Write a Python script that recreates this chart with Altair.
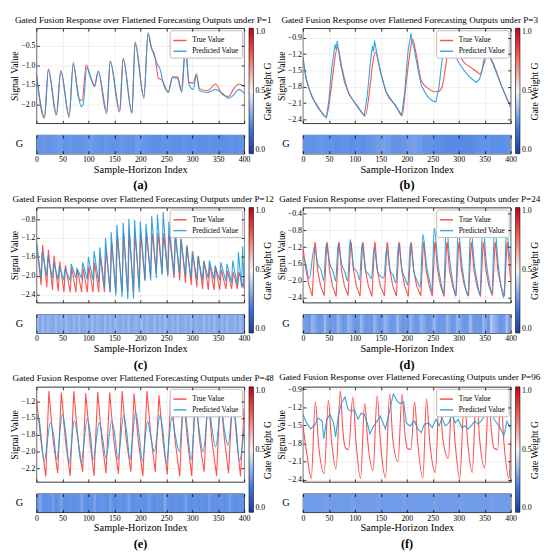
import json
import altair as alt
import pandas as pd

FONT = "Liberation Serif"
RED = "#ff3030"
BLUE = "#1e9ad6"
SERIES = ["True Value", "Predicted Value"]
X_TICKS = [0, 50, 100, 150, 200, 250, 300, 350, 400]
CB_DOMAIN = [0.0, 0.2, 0.5, 0.8, 1.0]
CB_RANGE = ["#1c3d9c", "#3f7ae3", "#f5f5f5", "#f2564b", "#c4001f"]
CB_TICKS = [0.0, 0.5, 1.0]
CB_TITLE = "Gate Weight G"

TITLES = [
    "Gated Fusion Response over Flattened Forecasting Outputs under P=1",
    "Gated Fusion Response over Flattened Forecasting Outputs under P=3",
    "Gated Fusion Response over Flattened Forecasting Outputs under P=12",
    "Gated Fusion Response over Flattened Forecasting Outputs under P=24",
    "Gated Fusion Response over Flattened Forecasting Outputs under P=48",
    "Gated Fusion Response over Flattened Forecasting Outputs under P=96",
]
TAGS = ["(a)", "(b)", "(c)", "(d)", "(e)", "(f)"]

# ---------------- panel (a) P=1 ----------------
A_TRUE_X = [0, 15, 23, 38, 47, 63, 71, 82, 88, 96, 103, 112, 119, 135, 142, 160, 167, 184, 190, 207,
            215, 221, 228, 235, 242, 254, 262, 272, 279, 287, 294, 302, 308, 314, 330, 345, 358, 370, 380, 390, 400]
A_TRUE_Y = [-1.20, -2.36, -1.10, -2.28, -1.14, -2.33, -0.93, -1.88, -1.90, -0.99, -1.25, -1.52, -1.15, -2.25,
            -0.89, -2.20, -0.82, -2.23, -0.40, -1.80, -0.20, -0.55, -0.76, -1.33, -1.38, -1.70, -1.30, -1.30,
            -1.65, -0.55, -1.44, -1.46, -1.22, -1.60, -1.65, -1.48, -1.75, -1.80, -1.60, -1.48, -1.55]
A_PRED_X = [0, 16, 23, 39, 47, 63, 71, 79, 86, 90, 97, 104, 112, 119, 136, 142, 161, 167, 184, 190, 207, 215,
            221, 228, 234, 238, 244, 254, 262, 272, 280, 287, 294, 302, 308, 314, 330, 345, 358, 370, 380, 390, 400]
A_PRED_Y = [-1.25, -2.33, -1.13, -2.26, -1.16, -2.28, -0.97, -1.60, -2.06, -2.00, -1.05, -1.30, -1.55, -1.17,
            -2.18, -0.91, -2.16, -0.85, -2.22, -0.45, -1.85, -0.17, -0.52, -0.80, -1.01, -1.10, -1.45, -1.68,
            -1.32, -1.35, -1.70, -0.57, -1.50, -1.62, -1.26, -1.65, -1.70, -1.62, -1.72, -1.85, -1.76, -1.62, -1.72]
A_YDOM = [-2.487, -0.055]
A_YTICKS = [-2.0, -1.5, -1.0, -0.5]
G_A = [0.26, 0.27, 0.26, 0.27, 0.28, 0.26, 0.27, 0.26, 0.26, 0.27, 0.28, 0.27, 0.26, 0.27, 0.26, 0.26, 0.27,
       0.26, 0.26, 0.28, 0.27, 0.26, 0.25, 0.25, 0.26, 0.26, 0.25, 0.25, 0.26, 0.25, 0.26, 0.25, 0.25, 0.26,
       0.25, 0.25, 0.25, 0.26, 0.25, 0.26]

# ---------------- panel (b) P=3 ----------------
B_TRUE_X = [0, 6, 18, 30, 45, 52, 58, 62, 67, 75, 86, 105, 120, 128, 134, 139, 150, 160, 179, 191, 198, 205,
            211, 220, 228, 241, 253, 262, 268, 276, 284, 296, 309, 321, 337, 341, 348, 355, 365, 383, 400]
B_TRUE_Y = [-1.25, -1.63, -1.98, -2.18, -2.36, -2.00, -1.55, -1.25, -1.08, -1.45, -1.86, -2.15, -2.33, -1.90,
            -1.40, -1.16, -1.55, -1.89, -2.15, -2.33, -1.80, -1.25, -0.93, -1.30, -1.69, -1.83, -1.89, -1.88,
            -1.80, -1.35, -0.92, -1.10, -1.34, -1.43, -1.54, -1.57, -1.40, -1.20, -1.34, -1.80, -2.17]
B_PRED_X = [0, 6, 18, 30, 45, 50, 54, 57, 60, 62, 64, 66, 68, 72, 80, 88, 105, 118, 124, 128, 131, 134, 136,
            138, 141, 150, 160, 179, 190, 196, 200, 203, 206, 208, 210, 213, 220, 228, 240, 250, 256, 262, 268,
            273, 277, 280, 283, 290, 300, 312, 322, 334, 340, 345, 350, 353, 356, 365, 383, 400]
B_PRED_Y = [-1.28, -1.66, -2.00, -2.20, -2.37, -2.05, -1.60, -1.35, -1.15, -1.02, -1.12, -0.96, -1.10, -1.35,
            -1.72, -1.92, -2.17, -2.33, -1.95, -1.55, -1.25, -1.05, -1.15, -0.95, -1.12, -1.55, -1.90, -2.16,
            -2.32, -1.90, -1.40, -1.10, -0.95, -0.82, -0.95, -1.05, -1.40, -1.78, -1.98, -2.06, -2.08, -1.80,
            -1.30, -1.00, -0.87, -1.05, -0.93, -1.15, -1.36, -1.52, -1.63, -1.72, -1.66, -1.50, -1.22, -1.13,
            -1.20, -1.36, -1.80, -2.17]
B_YDOM = [-2.47, -0.725]
B_YTICKS = [-2.4, -2.1, -1.8, -1.5, -1.2, -0.9]
G_B = [0.26, 0.26, 0.26, 0.27, 0.26, 0.26, 0.25, 0.26, 0.26, 0.25, 0.26, 0.25, 0.26, 0.27, 0.28, 0.29, 0.28,
       0.26, 0.26, 0.27, 0.28, 0.29, 0.28, 0.26, 0.26, 0.25, 0.25, 0.24, 0.24, 0.24, 0.24, 0.24, 0.24, 0.25,
       0.26, 0.26, 0.25, 0.25, 0.25, 0.26]

# ---------------- panel (c) P=12 ----------------
C_TRUE_X = [0, 9, 12, 20, 23, 31, 34, 42, 45, 53, 56, 65, 68, 76, 79, 87, 90, 98, 101, 109, 112, 120, 123,
            131, 134, 142, 145, 153, 156, 165, 168, 176, 179, 187, 190, 198, 201, 209, 212, 220, 223, 231, 234,
            242, 245, 253, 256, 265, 268, 276, 279, 287, 290, 298, 301, 309, 312, 320, 323, 331, 334, 342, 345,
            353, 356, 365, 368, 376, 379, 387, 390, 398, 400]
C_TRUE_Y = [-1.28,
            -2.20, -1.35, -2.25, -1.45, -2.30, -1.58, -2.33, -1.70, -2.35, -1.78,
            -2.35, -1.83, -2.35, -1.86, -2.35, -1.85, -2.35, -1.80, -2.35, -1.72,
            -2.35, -1.60, -2.35, -1.45, -2.35, -1.30, -2.35, -1.15, -2.35, -1.10,
            -2.37, -1.10, -2.35, -1.10, -2.25, -1.10, -2.10, -1.10, -2.00, -1.10,
            -1.95, -1.10, -1.95, -1.10, -2.00, -1.10, -2.05, -1.12, -2.10, -1.22,
            -2.15, -1.35, -2.20, -1.48, -2.25, -1.58, -2.28, -1.68, -2.30, -1.75,
            -2.30, -1.82, -2.30, -1.87, -2.28, -1.90, -2.28, -1.92, -2.28, -1.92,
            -2.25, -2.05]
C_PRED_X = [0, 9, 11, 20, 22, 31, 33, 42, 44, 53, 55, 65, 67, 76, 78, 87, 89, 98, 100, 109, 111, 120, 122,
            131, 133, 142, 144, 153, 155, 165, 167, 176, 178, 187, 189, 198, 200, 209, 211, 220, 222, 231, 233,
            242, 244, 253, 255, 265, 267, 276, 278, 287, 289, 298, 300, 309, 311, 320, 322, 331, 333, 342, 344,
            353, 355, 365, 367, 376, 378, 387, 389, 395, 397, 400]
C_PRED_Y = [-1.30,
            -2.05, -1.50, -2.00, -1.60, -2.05, -1.72, -2.08, -1.80, -2.10, -1.85,
            -2.10, -1.75, -2.05, -1.85, -2.05, -1.72, -2.08, -1.60, -2.10, -1.48,
            -2.15, -1.40, -2.25, -1.20, -2.35, -1.08, -2.42, -0.92, -2.45, -0.87,
            -2.50, -0.80, -2.48, -0.82, -2.35, -0.85, -2.10, -0.90, -2.10, -0.73,
            -2.05, -0.70, -1.98, -0.65, -2.00, -0.85, -1.98, -1.10, -1.95, -1.22,
            -2.00, -1.38, -2.05, -1.50, -2.08, -1.60, -2.10, -1.70, -2.05, -1.68,
            -2.08, -1.78, -2.10, -1.72, -2.12, -1.75, -2.15, -1.68, -2.20, -1.50,
            -2.25, -1.38, -2.28]
C_YDOM = [-2.57, -0.555]
C_YTICKS = [-2.4, -2.0, -1.6, -1.2, -0.8]
G_C = [0.35, 0.31, 0.35, 0.31, 0.34, 0.32, 0.31, 0.35, 0.31, 0.34,
       0.31, 0.35, 0.32, 0.31, 0.34, 0.31, 0.35, 0.31, 0.32, 0.34,
       0.31, 0.35, 0.31, 0.34, 0.32, 0.31, 0.35, 0.31, 0.34, 0.31,
       0.35, 0.32, 0.31, 0.34, 0.31, 0.35, 0.31, 0.32, 0.34, 0.31,
       0.35, 0.31, 0.34, 0.32, 0.31, 0.35, 0.31, 0.34, 0.31, 0.35,
       0.32, 0.31, 0.34, 0.31, 0.35, 0.31, 0.32, 0.34, 0.31, 0.35,
       0.31, 0.34, 0.32, 0.31, 0.35, 0.31, 0.34, 0.31, 0.35, 0.32,
       0.31, 0.34, 0.31, 0.35, 0.31, 0.32, 0.34, 0.31, 0.35, 0.31]

# ---------------- panel (d) P=24 ----------------
D_TRUE_X = [0, 6, 12, 18, 23, 24, 28, 34, 41, 46, 47, 51, 57, 64, 69, 70, 74, 80, 87, 92, 93, 97, 103, 110,
            115, 116, 120, 126, 133, 138, 139, 143, 149, 157, 162, 163, 167, 173, 180, 185, 186, 190, 196, 203,
            208, 209, 213, 219, 227, 232, 233, 237, 243, 249, 254, 255, 259, 265, 272, 277, 278, 282, 288, 295,
            300, 301, 305, 311, 319, 324, 325, 329, 335, 342, 347, 348, 352, 358, 365, 370, 371, 375, 381, 388,
            393, 394, 398, 400]
D_TRUE_Y = [-1.20, -1.75, -2.12, -2.36,
            -1.10, -1.10, -1.72, -2.12, -2.35,
            -1.10, -1.10, -1.72, -2.12, -2.37,
            -1.10, -1.10, -1.72, -2.12, -2.35,
            -1.10, -1.10, -1.72, -2.12, -2.36,
            -1.10, -1.10, -1.72, -2.12, -2.37,
            -1.10, -1.10, -1.72, -2.12, -2.35,
            -1.10, -1.10, -1.72, -2.12, -2.36,
            -1.10, -1.10, -1.72, -2.12, -2.37,
            -1.10, -1.10, -1.72, -2.12, -2.35,
            -1.10, -1.10, -1.72, -2.12, -2.36,
            -1.10, -1.10, -1.72, -2.12, -2.37,
            -1.10, -1.10, -1.72, -2.12, -2.35,
            -1.10, -1.10, -1.72, -2.12, -2.36,
            -1.10, -1.10, -1.72, -2.12, -2.37,
            -1.10, -1.10, -1.72, -2.12, -2.35,
            -1.10, -1.10, -1.72, -2.12, -2.36,
            -1.10, -1.10, -1.72, -2.00]
D_PRED_X = [0, 5, 12, 22, 29, 35, 40, 45, 52, 58, 63, 68, 75, 81, 86, 91, 98, 104, 109, 114, 121, 127, 132,
            137, 144, 150, 156, 161, 168, 174, 179, 184, 191, 197, 202, 207, 214, 220, 226, 231, 238, 244, 248,
            253, 260, 266, 271, 276, 283, 289, 294, 299, 306, 312, 318, 323, 330, 336, 341, 346, 353, 359, 364,
            369, 376, 382, 387, 392, 398, 400]
D_PRED_Y = [-1.40, -1.58, -1.95,
            -1.20, -1.62, -1.75, -1.99,
            -1.13, -1.60, -1.78, -2.00,
            -1.13, -1.62, -1.80, -2.00,
            -1.02, -1.70, -1.78, -1.97,
            -1.12, -1.75, -1.85, -1.95,
            -1.22, -1.78, -1.90, -1.93,
            -1.22, -1.75, -1.88, -2.05,
            -1.12, -1.75, -1.95, -2.10,
            -1.12, -1.80, -2.00, -2.15,
            -0.90, -1.65, -2.00, -2.25,
            -0.75, -1.60, -2.05, -2.30,
            -0.68, -1.55, -2.05, -2.36,
            -0.78, -1.60, -2.10, -2.36,
            -0.71, -1.60, -2.05, -2.33,
            -0.64, -1.55, -2.05, -2.30,
            -0.68, -1.60, -2.15, -2.40,
            -0.78, -1.40, -1.55]
D_YDOM = [-2.514, -0.263]
D_YTICKS = [-2.4, -2.0, -1.6, -1.2, -0.8, -0.4]
G_D = [0.29, 0.28, 0.27, 0.34, 0.32, 0.28, 0.27, 0.28, 0.35, 0.29,
       0.27, 0.28, 0.27, 0.34, 0.30, 0.27, 0.28, 0.34, 0.32, 0.28,
       0.27, 0.28, 0.35, 0.29, 0.27, 0.28, 0.27, 0.34, 0.30, 0.27,
       0.28, 0.34, 0.32, 0.28, 0.27, 0.28, 0.35, 0.29, 0.27, 0.28,
       0.27, 0.34, 0.30, 0.27, 0.28, 0.34, 0.32, 0.28, 0.27, 0.28,
       0.35, 0.29, 0.27, 0.28, 0.27, 0.34, 0.30, 0.27, 0.28, 0.34,
       0.32, 0.28, 0.27, 0.28, 0.36, 0.29, 0.27, 0.28, 0.27, 0.34,
       0.30, 0.27, 0.39, 0.34, 0.32, 0.28, 0.27, 0.28, 0.36, 0.29]

# ---------------- panel (e) P=48 ----------------
E_TRUE_X = [0, 9, 18, 24, 32, 41, 48, 56, 65, 72, 80, 89, 95, 103, 111, 118, 126, 134, 141, 149, 158, 165,
            173, 182, 188, 196, 205, 213, 221, 229, 236, 244, 252, 259, 267, 276, 283, 291, 299, 306, 314, 323,
            330, 338, 347, 354, 362, 370, 378, 386, 393, 400]
E_TRUE_Y = [-1.22, -1.85, -2.37,
            -1.10, -1.82, -2.32, -1.12, -1.84, -2.36, -1.10, -1.82, -2.30, -1.13, -1.84, -2.36,
            -1.11, -1.83, -2.32, -1.12, -1.83, -2.33, -1.10, -1.82, -2.30, -1.13, -1.84, -2.36,
            -1.10, -1.82, -2.30, -1.16, -1.85, -2.34, -1.10, -1.83, -2.37, -1.12, -1.84, -2.36,
            -1.11, -1.82, -2.30, -1.12, -1.84, -2.36, -1.10, -1.82, -2.32, -1.11, -1.85, -2.37,
            -1.35]
E_PRED_X = [0, 5, 15, 27, 33, 39, 50, 56, 63, 73, 79, 86, 98, 104, 109, 121, 127, 134, 145, 151, 157, 168,
            174, 180, 191, 197, 204, 214, 220, 227, 238, 244, 250, 261, 267, 275, 284, 290, 298, 307, 313, 321,
            332, 338, 345, 356, 362, 369, 379, 385, 391, 400]
E_PRED_Y = [-1.45, -1.52, -2.14,
            -1.57, -1.75, -2.12, -1.44, -1.70, -2.17, -1.54, -1.75, -2.17, -1.51, -1.74, -2.12,
            -1.57, -1.78, -2.10, -1.54, -1.76, -2.12, -1.46, -1.72, -2.12, -1.41, -1.70, -2.14,
            -1.55, -1.76, -2.00, -1.46, -1.72, -2.17, -1.48, -1.74, -2.00, -1.26, -1.62, -2.12,
            -1.31, -1.66, -2.00, -1.31, -1.65, -1.93, -1.36, -1.68, -1.91, -1.29, -1.66, -2.14,
            -1.65]
E_YDOM = [-2.45, -1.036]
E_YTICKS = [-2.25, -2.0, -1.75, -1.5, -1.25]
E_YLABELS = ["\u22122.2", "\u22122.0", "\u22121.8", "\u22121.5", "\u22121.2"]
G_E = [0.26, 0.31, 0.26, 0.25, 0.26, 0.26, 0.29, 0.25, 0.26, 0.30,
       0.26, 0.25, 0.26, 0.26, 0.25, 0.26, 0.26, 0.31, 0.26, 0.25,
       0.26, 0.26, 0.30, 0.25, 0.26, 0.26, 0.26, 0.25, 0.29, 0.26,
       0.25, 0.26, 0.26, 0.25, 0.26, 0.30, 0.26, 0.25, 0.26, 0.26,
       0.26, 0.25, 0.26, 0.29, 0.26, 0.25, 0.26, 0.26, 0.25, 0.31,
       0.26, 0.26, 0.25, 0.26, 0.26, 0.25, 0.26, 0.29, 0.26, 0.25,
       0.26, 0.26, 0.25, 0.26, 0.26, 0.25, 0.29, 0.26, 0.26, 0.25,
       0.26, 0.26, 0.25, 0.26, 0.29, 0.26, 0.25, 0.26, 0.26, 0.26]

# ---------------- panel (f) P=96 ----------------
F_TRUE_X = [0, 8, 16, 24, 30, 41, 49, 55, 64, 72, 77, 82, 88, 96, 102, 111, 119, 125, 135, 143, 149, 159, 167,
            173, 183, 191, 196, 201, 208, 215, 221, 231, 238, 244, 255, 263, 269, 280, 287, 293, 302, 311, 317,
            326, 334, 340, 350, 358, 363, 368, 375, 381, 387, 397, 400]
F_TRUE_Y = [-1.50, -2.00, -2.38, -1.11, -1.80, -2.30, -1.09, -1.75, -2.22, -0.93, -1.60, -1.88, -1.90, -1.03,
            -1.75, -2.38, -1.14, -1.78, -2.25, -1.01, -1.75, -2.37, -0.98, -1.72, -2.10, -0.98, -1.60, -1.88,
            -1.90, -1.11, -1.78, -2.37, -1.06, -1.75, -2.28, -0.94, -1.70, -2.05, -1.09, -1.78, -2.38, -1.03,
            -1.75, -2.28, -0.93, -1.70, -2.20, -1.01, -1.60, -1.88, -1.90, -1.03, -1.78, -2.38, -1.75]
F_PRED_X = [0, 7, 15, 24, 29, 37, 40, 46, 52, 59, 63, 68, 74, 81, 87, 94, 99, 106, 112, 118, 124, 129, 136,
            143, 149, 159, 168, 174, 181, 187, 194, 199, 206, 215, 221, 228, 234, 242, 249, 256, 262, 268, 274,
            281, 287, 293, 299, 306, 312, 318, 324, 331, 337, 343, 349, 356, 362, 368, 378, 387, 393, 400]
F_PRED_Y = [-1.32, -1.46, -1.56, -1.48, -1.38, -1.43, -1.72, -1.40, -1.32, -1.46, -1.69, -1.35, -1.14, -1.03,
            -1.24, -1.27, -1.24, -1.40, -1.30, -1.32, -1.46, -1.64, -1.51, -1.43, -1.35, -1.56, -1.22, -0.98,
            -1.09, -1.14, -1.11, -1.46, -1.51, -1.43, -1.56, -1.62, -1.48, -1.46, -1.54, -1.40, -1.51, -1.38,
            -1.51, -1.46, -1.30, -1.46, -1.40, -1.54, -1.51, -1.56, -1.51, -1.43, -1.48, -1.43, -1.35, -1.27,
            -1.14, -1.40, -1.51, -1.67, -1.43, -1.56]
F_YDOM = [-2.437, -0.863]
F_YTICKS = [-2.4, -2.1, -1.8, -1.5, -1.2, -0.9]
G_F = [0.28, 0.28, 0.28, 0.28, 0.29, 0.28, 0.28, 0.28, 0.28, 0.29, 0.28, 0.28, 0.28, 0.28, 0.29, 0.28, 0.28,
       0.28, 0.28, 0.29, 0.28, 0.28, 0.28, 0.28, 0.28, 0.29, 0.28, 0.28, 0.28, 0.28, 0.29, 0.28, 0.28, 0.28,
       0.28, 0.28, 0.29, 0.28, 0.28, 0.28]

PANELS = [
    dict(tx=A_TRUE_X, ty=A_TRUE_Y, px=A_PRED_X, py=A_PRED_Y, g=G_A, dom=A_YDOM, ticks=A_YTICKS, labels=None,
         it="monotone", ip="monotone"),
    dict(tx=B_TRUE_X, ty=B_TRUE_Y, px=B_PRED_X, py=B_PRED_Y, g=G_B, dom=B_YDOM, ticks=B_YTICKS, labels=None,
         it="monotone", ip="linear"),
    dict(tx=C_TRUE_X, ty=C_TRUE_Y, px=C_PRED_X, py=C_PRED_Y, g=G_C, dom=C_YDOM, ticks=C_YTICKS, labels=None,
         it="linear", ip="linear"),
    dict(tx=D_TRUE_X, ty=D_TRUE_Y, px=D_PRED_X, py=D_PRED_Y, g=G_D, dom=D_YDOM, ticks=D_YTICKS, labels=None,
         it="linear", ip="monotone"),
    dict(tx=E_TRUE_X, ty=E_TRUE_Y, px=E_PRED_X, py=E_PRED_Y, g=G_E, dom=E_YDOM, ticks=E_YTICKS, labels=E_YLABELS,
         it="linear", ip="monotone"),
    dict(tx=F_TRUE_X, ty=F_TRUE_Y, px=F_PRED_X, py=F_PRED_Y, g=G_F, dom=F_YDOM, ticks=F_YTICKS, labels=None,
         it="monotone", ip="linear"),
]
for i, p in enumerate(PANELS):
    p["title"] = TITLES[i]
    p["tag"] = TAGS[i]

# ---------------- layout ----------------
W, H, SH, GAP, SPACER, SX = 212, 97, 19, 12, 31, 60


def x_scale():
    return alt.Scale(domain=[0, 400], nice=False, zero=False)


def line_chart(p):
    xs = x_scale()
    ys = alt.Scale(domain=p["dom"], nice=False, zero=False)
    df_t = pd.DataFrame({"idx": p["tx"], "val": p["ty"], "series": SERIES[0]})
    df_p = pd.DataFrame({"idx": p["px"], "val": p["py"], "series": SERIES[1]})
    color = alt.Color(
        "series:N",
        scale=alt.Scale(domain=SERIES, range=[RED, BLUE]),
        legend=alt.Legend(
            title=None, orient="top-right", offset=2, fillColor="white", strokeColor="#bbbbbb",
            padding=3, cornerRadius=2, symbolType="stroke", symbolStrokeWidth=1.5, symbolSize=180,
            labelFontSize=7.5, labelFont=FONT, rowPadding=0, labelOffset=5,
        ),
    )
    ykw = dict(values=p["ticks"], title="Signal Value", tickSize=3, offset=-3, domain=False, grid=True,
               labelPadding=1.5, titlePadding=1, format=".1f", labelFontSize=8, titleFontSize=10)
    if p["labels"] is not None:
        ykw["labelExpr"] = "%s[indexof(%s, datum.value)]" % (
            json.dumps(p["labels"], ensure_ascii=False), json.dumps(p["ticks"]))
    red = alt.Chart(df_t).mark_line(strokeWidth=1.1, opacity=0.85, clip=True, interpolate=p["it"]).encode(
        x=alt.X("idx:Q", scale=xs, axis=alt.Axis(values=X_TICKS, labels=False, title=None, tickSize=3,
                                                  offset=-3, domain=False, grid=True)),
        y=alt.Y("val:Q", scale=ys, axis=alt.Axis(**ykw)),
        color=color,
    )
    blue = alt.Chart(df_p).mark_line(strokeWidth=1.1, opacity=0.9, clip=True, interpolate=p["ip"]).encode(
        x=alt.X("idx:Q", scale=xs, axis=None),
        y=alt.Y("val:Q", scale=ys, axis=None),
        color=color,
    )
    # right-hand ticks; its title is the colour bar's label
    ghost = alt.Chart(df_t).mark_point(opacity=0).encode(
        x=alt.X("idx:Q", scale=xs, axis=alt.Axis(orient="top", values=X_TICKS, labels=False, title=None,
                                                  tickSize=3, offset=-3, domain=False, grid=False, zindex=1)),
        y=alt.Y("val:Q", scale=ys, axis=alt.Axis(orient="right", values=p["ticks"], labels=False,
                                                  title=CB_TITLE, titleAngle=270, titleX=27,
                                                  titleY=(H + GAP + SH) / 2, titleAlign="center",
                                                  titleBaseline="middle", titleFontSize=10,
                                                  tickSize=3, offset=-3, domain=False, grid=False, zindex=1)),
    )
    return alt.layer(red, blue, ghost).resolve_axis(x="independent", y="independent").properties(
        width=W, height=H,
        title=alt.TitleParams(p["title"], fontSize=9.3, font=FONT, fontWeight="normal", anchor="middle",
                              frame="group", dx=3, offset=3, color="black"),
    )


def strip_chart(p):
    xs = x_scale()
    n = len(p["g"])
    step = 400 / n
    gdf = pd.DataFrame({
        "x0": [i * step for i in range(n)],
        "x1": [(i + 1) * step for i in range(n)],
        "g": p["g"],
        "row": "G",
    })
    rect = alt.Chart(gdf).mark_rect(x2Offset=0.8, clip=True).encode(
        x=alt.X("x0:Q", scale=xs, axis=alt.Axis(values=X_TICKS, title="Sample-Horizon Index", tickSize=3,
                                                 offset=-3, domain=False, grid=False, labelPadding=2,
                                                 titlePadding=1, format="d", zindex=1, titleFontSize=10.5,
                                                 labelFontSize=8)),
        x2="x1:Q",
        y=alt.Y("row:N", axis=alt.Axis(title=None, ticks=False, domain=False, labelPadding=14,
                                        labelFontSize=10.5, labelAngle=0)),
        color=alt.Color(
            "g:Q",
            scale=alt.Scale(domain=CB_DOMAIN, range=CB_RANGE, interpolate="rgb"),
            legend=alt.Legend(
                orient="none", legendX=W + 5, legendY=-(H + GAP), direction="vertical",
                gradientLength=H + GAP + SH, gradientThickness=4.5, values=CB_TICKS, format=".1f",
                title=None, labelFontSize=8, labelFont=FONT, labelOffset=2, labelBaseline="middle",
                gradientStrokeColor="black", gradientStrokeWidth=0.6, padding=0,
            ),
        ),
    )
    ghost = alt.Chart(gdf).mark_point(opacity=0).encode(
        x=alt.X("x0:Q", scale=xs, axis=alt.Axis(orient="top", values=X_TICKS, labels=False, title=None,
                                                 tickSize=3, offset=-3, domain=False, grid=False, zindex=1)),
    )
    return alt.layer(rect, ghost).resolve_axis(x="independent").properties(
        width=W, height=SH,
        title=alt.TitleParams(p["tag"], orient="bottom", fontSize=12.5, fontWeight="bold", font=FONT,
                              anchor="middle", frame="bounds", offset=5, color="black"),
    )


def spacer():
    return alt.Chart(pd.DataFrame({"v": [0]})).mark_point(opacity=0).encode(
        x=alt.X("v:Q", axis=None), y=alt.Y("v:Q", axis=None)
    ).properties(width=W, height=SPACER, view=alt.ViewBackground(strokeOpacity=0))


charts = []
for r in range(3):
    L, R = PANELS[2 * r], PANELS[2 * r + 1]
    charts += [line_chart(L), line_chart(R), strip_chart(L), strip_chart(R)]
    if r < 2:
        charts += [spacer(), spacer()]

chart = alt.concat(*charts, columns=2, spacing={"row": GAP, "column": SX}, bounds="flush").resolve_scale(
    color="independent"
).resolve_legend(color="independent").properties(
    padding={"left": 1, "top": 1, "right": 1, "bottom": 1}
).configure_axis(
    labelFont=FONT, titleFont=FONT, labelFontSize=8.5, titleFontSize=10, titleFontWeight="normal",
    labelColor="black", titleColor="black", tickColor="black", tickWidth=0.8, labelFlush=False,
    gridColor="#e3e3e3", gridWidth=0.6,
).configure_view(stroke="black", strokeWidth=0.8).configure_legend(
    labelFont=FONT, titleFont=FONT, labelColor="black", titleColor="black"
)

chart.save("out.html", embed_options={"renderer": "svg", "actions": False})
